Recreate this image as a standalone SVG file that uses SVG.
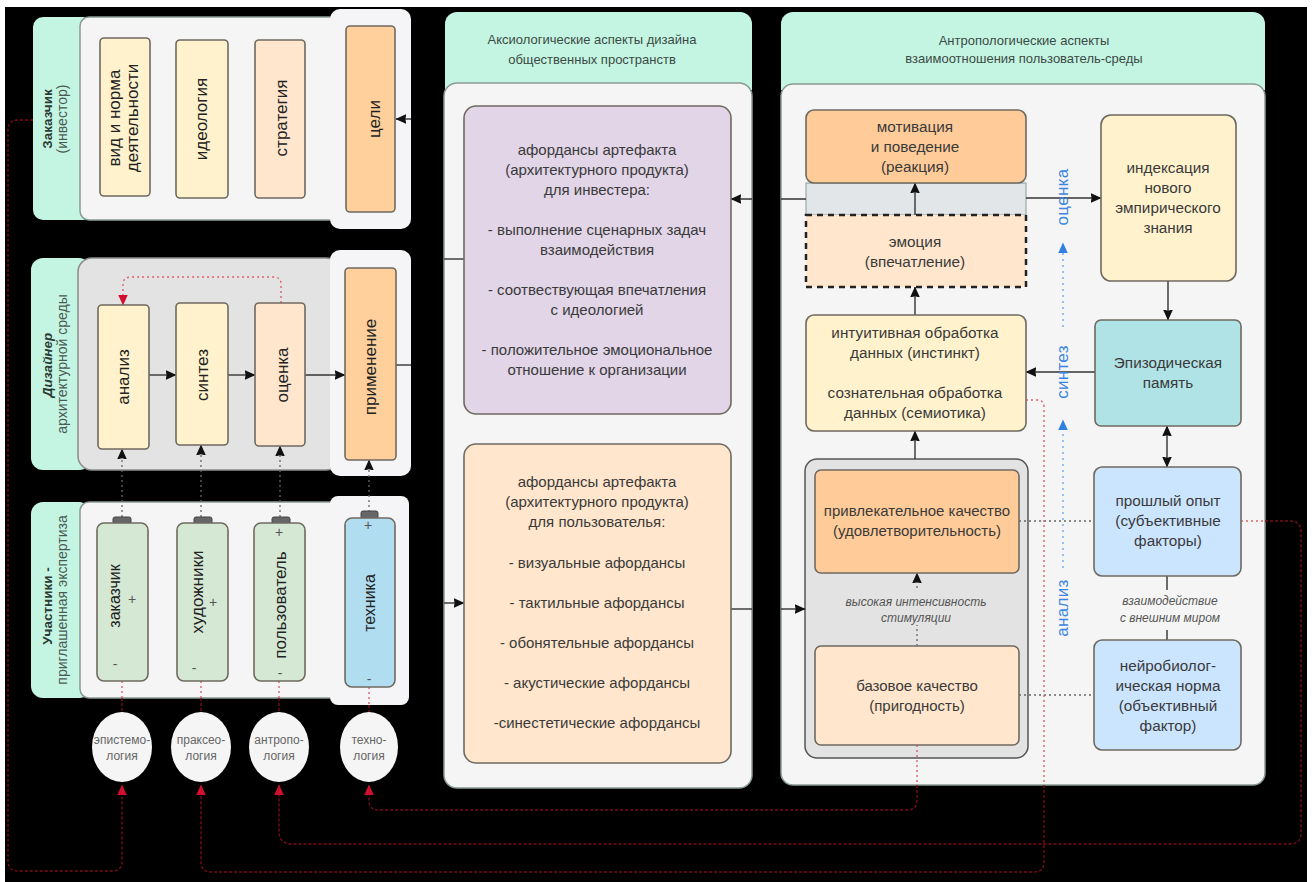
<svg xmlns="http://www.w3.org/2000/svg" width="1314" height="882" viewBox="0 0 1314 882">
<defs>
<marker id="ab" viewBox="0 0 10 10" refX="9.5" refY="5" markerWidth="11" markerHeight="11" markerUnits="userSpaceOnUse" orient="auto"><path d="M0 0.5L10 5L0 9.5L1 5Z" fill="#111"/></marker>
<marker id="ar" viewBox="0 0 10 10" refX="9.5" refY="5" markerWidth="11" markerHeight="11" markerUnits="userSpaceOnUse" orient="auto"><path d="M0 0.5L10 5L0 9.5Z" fill="#d0102e"/></marker>
<marker id="au" viewBox="0 0 10 10" refX="9.5" refY="5" markerWidth="11" markerHeight="11" markerUnits="userSpaceOnUse" orient="auto"><path d="M0 0.5L10 5L0 9.5Z" fill="#2f80e0"/></marker>
</defs>
<style>
text{font-family:"Liberation Sans",Arial,sans-serif;fill:#3a3a3a;text-anchor:middle;font-size:12px}
.hd{fill:#c4f5e2;stroke:none}
.pn{fill:#f5f5f5;stroke:#8a9a94;stroke-width:1.5}
.pg{fill:#e3e3e3;stroke:#8a8f8c;stroke-width:1.5}
.pt{fill:#f5f5f7;stroke:none}
.c{stroke:#6f6a60;stroke-width:1.6}
.y{fill:#fff2cc}.o{fill:#ffe6cc}.d{fill:#ffcf9c}.g{fill:#d5e8d4}.b{fill:#b1ddf0}.l{fill:#cce5ff}.t{fill:#b0e3e6}.p{fill:#e1d5e7}
.k{fill:#666;stroke:#444;stroke-width:1}
.cn{fill:none;stroke:#333;stroke-width:1.4}
.cd{fill:none;stroke:#666;stroke-width:1.3;stroke-dasharray:2 3}
.rd{fill:none;stroke:#7a0c18;stroke-width:1.4;stroke-dasharray:3 2}
.rl{fill:none;stroke:#e0606f;stroke-width:1.4;stroke-dasharray:2 3}
.bl{fill:none;stroke:#5a9be8;stroke-width:1.2;stroke-dasharray:2 4}
.h{font-size:13px;fill:#3c4a44}
.hr{font-size:14px;fill:#4a5a52}
.hb{font-size:13.5px;fill:#2c3a34;font-weight:bold}
.s{font-size:12px;fill:#555}
.m{font-size:15px}
.a{font-size:15.3px}
.v{font-size:17px;fill:#222}
.e{font-size:12px;fill:#666}
.q{font-size:14px;fill:#555}
.u{font-size:17px;fill:#3b86e0;letter-spacing:.3px}
</style>
<rect width="1314" height="882" fill="#fff"/>
<rect x="5" y="7" width="1302" height="875" fill="#000"/>

<g id="row1">
<rect class="hd" x="33" y="17" width="60" height="203" rx="10"/>
<rect class="pn" x="80" y="17" width="260" height="203" rx="9"/>
<rect class="pt" x="330" y="9" width="81" height="220" rx="10"/>
<text class="hb" transform="translate(52,119) rotate(-90)">Заказчик</text>
<text class="hr" transform="translate(67,119) rotate(-90)">(инвестор)</text>
</g>
<g id="row2">
<rect class="hd" x="31" y="258" width="60" height="212" rx="12"/>
<rect class="pg" x="78" y="258" width="262" height="212" rx="14"/>
<rect class="pt" x="330" y="250" width="81" height="226" rx="10"/>
<text class="hb" font-style="italic" transform="translate(52,365) rotate(-90)">Дизайнер</text>
<text class="hr" transform="translate(67,364) rotate(-90)">архитектурной среды</text>
</g>
<g id="row3">
<rect class="hd" x="31" y="502" width="60" height="196" rx="12"/>
<rect class="pn" x="80" y="502" width="260" height="196" rx="9"/>
<rect class="pt" x="330" y="496" width="79" height="209" rx="8"/>
<text class="hb" transform="translate(52,606) rotate(-90)">Участники -</text>
<text class="hr" transform="translate(67,600) rotate(-90)">приглашенная экспертиза</text>
</g>

<g id="axio">
<path class="hd" d="M445 90V24a12 12 0 0 1 12-12H740a12 12 0 0 1 12 12V90Z"/>
<text class="h" x="592" y="44">Аксиологические аспекты дизайна</text>
<text class="h" x="592" y="64">общественных пространств</text>
<rect class="pn" x="444" y="83" width="308" height="705" rx="13"/>
</g>
<g id="anthro">
<path class="hd" d="M781 90V24a12 12 0 0 1 12-12H1253a12 12 0 0 1 12 12V90Z"/>
<text class="h" x="1024" y="45">Антропологические аспекты</text>
<text class="h" x="1024" y="63">взаимоотношения пользователь-среды</text>
<rect class="pn" x="781" y="84" width="484" height="701" rx="12"/>
<rect x="806" y="183" width="220" height="32" fill="#e3e6e8" stroke="#8a9a9c"/>
<rect class="pg" x="805" y="459" width="223" height="299" rx="12" style="stroke:#555"/>
</g>

<g id="connectors">
<path class="cn" d="M411 119H396" marker-end="url(#ab)"/>
<path class="cn" d="M149 375H176" marker-end="url(#ab)"/>
<path class="cn" d="M228 375H255" marker-end="url(#ab)"/>
<path class="cn" d="M305 375H345" marker-end="url(#ab)"/>
<path class="cn" d="M396 365H411"/>
<path class="cn" d="M444 259H464"/>
<path class="cn" d="M444 603H464" marker-end="url(#ab)"/>
<path class="cn" d="M731 609H752"/>
<path class="cn" d="M781 609H805" marker-end="url(#ab)"/>
<path class="cn" d="M806 199H781M752 199H731" marker-end="url(#ab)"/>
<path class="cn" d="M1026 198H1101" marker-end="url(#ab)"/>
<path class="cn" d="M915 215V183" marker-end="url(#ab)"/>
<path class="cn" d="M915 315V287" marker-end="url(#ab)"/>
<path class="cn" d="M915 459V431" marker-end="url(#ab)"/>
<path class="cn" d="M1168 281V320" marker-end="url(#ab)"/>
<path class="cn" d="M1095 372H1026" marker-end="url(#ab)"/>
<path class="cn" d="M1167 447V426" marker-end="url(#ab)"/>
<path class="cn" d="M1167 447V467" marker-end="url(#ab)"/>
<path class="cd" d="M917 646V625M917 588V573" marker-end="url(#ab)"/>
<path class="cn" d="M1167 576V590M1167 630V640"/>
<path class="cd" d="M1019 521H1094"/>
<path class="cd" d="M1019 695H1094"/>
<path class="cd" d="M122 517V449" marker-end="url(#ab)"/>
<path class="cd" d="M201 517V445" marker-end="url(#ab)"/>
<path class="cd" d="M280 517V446" marker-end="url(#ab)"/>
<path class="cd" d="M369 512V460" marker-end="url(#ab)"/>
<path class="rl" d="M281 303V284Q281 277 274 277H132Q123 277 123 284V305" marker-end="url(#ar)"/>
<path class="rl" d="M122 681V698M201 681V698M279 681V698M369 687V705"/>
<path class="rd" d="M122 698V712M201 698V712M279 698V712M369 705V712"/>
<path class="rl" d="M1026 400H1037Q1044 400 1044 407V785"/>
<path class="rd" d="M1044 785V862Q1044 872 1034 872H211Q201 872 201 862V785" marker-end="url(#ar)"/>
<path class="rl" d="M1241 521H1265"/>
<path class="rd" d="M1265 521H1290Q1301 521 1301 532V833Q1301 844 1290 844H292Q279 844 279 831V785" marker-end="url(#ar)"/>
<path class="rl" d="M917 745V785"/>
<path class="rd" d="M917 785V800Q917 810 907 810H378Q369 810 369 800V785" marker-end="url(#ar)"/>
<path class="rd" d="M33 120H18Q8 120 8 130V861Q8 871 18 871H112Q122 871 122 861V785" marker-end="url(#ar)"/>
<path class="bl" d="M1063 568V420" marker-end="url(#au)"/>
<path class="bl" d="M1063 327V243" marker-end="url(#au)"/>
</g>

<g id="n1"><rect class="c y" x="100" y="38" width="50" height="158" rx="4"/><text class="v" transform="translate(120,118) rotate(-90)">вид и норма</text><text class="v" transform="translate(138,118) rotate(-90)">деятельности</text></g>
<g id="n2"><rect class="c y" x="176" y="40" width="52" height="158" rx="4"/><text class="v" transform="translate(207,119) rotate(-90)">идеология</text></g>
<g id="n3"><rect class="c o" x="255" y="40" width="50" height="158" rx="4"/><text class="v" transform="translate(287,118) rotate(-90)">стратегия</text></g>
<g id="n4"><rect class="c d" x="346" y="26" width="49" height="186" rx="4"/><text class="v" transform="translate(380,119) rotate(-90)">цели</text></g>
<g id="n5"><rect class="c y" x="98" y="305" width="51" height="144" rx="4"/><text class="v" transform="translate(129,377) rotate(-90)">анализ</text></g>
<g id="n6"><rect class="c y" x="176" y="303" width="52" height="142" rx="4"/><text class="v" transform="translate(208,375) rotate(-90)">синтез</text></g>
<g id="n7"><rect class="c o" x="255" y="303" width="50" height="143" rx="4"/><text class="v" transform="translate(288,375) rotate(-90)">оценка</text></g>
<g id="n8"><rect class="c d" x="345" y="268" width="51" height="192" rx="4"/><text class="v" transform="translate(376,367) rotate(-90)">применение</text></g>

<g id="n9"><rect class="k" x="113" y="517" width="18" height="7" rx="2"/><rect class="c g" x="97" y="523" width="51" height="158" rx="7"/><text class="v" style="font-size:16px" transform="translate(120,596) rotate(-90)">заказчик</text><text class="q" x="132" y="604">+</text><text class="q" x="115" y="669">-</text></g>
<g id="n10"><rect class="k" x="194" y="517" width="18" height="7" rx="2"/><rect class="c g" x="177" y="523" width="51" height="158" rx="7"/><text class="v" transform="translate(203,592) rotate(-90)">художники</text><text class="q" x="213" y="607">+</text><text class="q" x="194" y="673">-</text></g>
<g id="n11"><rect class="k" x="272" y="517" width="18" height="7" rx="2"/><rect class="c g" x="254" y="523" width="51" height="158" rx="7"/><text class="v" transform="translate(286,605) rotate(-90)">пользователь</text><text class="q" x="279" y="537">+</text><text class="q" x="280" y="678">-</text></g>
<g id="n12"><rect class="k" x="361" y="511" width="17" height="8" rx="2"/><rect class="c b" x="345" y="518" width="50" height="169" rx="7"/><text class="v" style="font-size:16px" transform="translate(375,603) rotate(-90)">техника</text><text class="q" x="368" y="530">+</text><text class="q" x="369" y="684">-</text></g>

<g id="e1"><ellipse cx="122" cy="747" rx="30" ry="35" fill="#f5f5f5"/><text class="e" x="122" y="744">эпистемо-</text><text class="e" x="122" y="760">логия</text></g>
<g id="e2"><ellipse cx="201" cy="747" rx="30" ry="35" fill="#f5f5f5"/><text class="e" x="201" y="744">праксео-</text><text class="e" x="201" y="760">логия</text></g>
<g id="e3"><ellipse cx="279" cy="747" rx="30" ry="35" fill="#f5f5f5"/><text class="e" x="279" y="744">антропо-</text><text class="e" x="279" y="760">логия</text></g>
<g id="e4"><ellipse cx="369" cy="747" rx="29" ry="35" fill="#f5f5f5"/><text class="e" x="369" y="744">техно-</text><text class="e" x="369" y="760">логия</text></g>

<g id="n13"><rect class="c p" x="464" y="106" width="267" height="308" rx="12"/>
<text class="m" x="597" y="155">афордансы артефакта</text><text class="m" x="597" y="175">(архитектурного продукта)</text><text class="m" x="597" y="195">для инвестера:</text>
<text class="m" x="597" y="235">- выполнение сценарных задач</text><text class="m" x="597" y="255">взаимодействия</text>
<text class="m" x="597" y="295">- соотвествующая впечатления</text><text class="m" x="597" y="315">с идеологией</text>
<text class="m" x="597" y="355">- положительное эмоциональное</text><text class="m" x="597" y="375">отношение к организации</text></g>
<g id="n14"><rect class="c o" x="464" y="444" width="267" height="319" rx="12"/>
<text class="m" x="597" y="487">афордансы артефакта</text><text class="m" x="597" y="507">(архитектурного продукта)</text><text class="m" x="597" y="527">для пользователья:</text>
<text class="m" x="597" y="568">- визуальные афордансы</text><text class="m" x="597" y="608">- тактильные афордансы</text><text class="m" x="597" y="648">- обонятельные афордансы</text><text class="m" x="597" y="688">- акустические афордансы</text><text class="m" x="597" y="728">-синестетические афордансы</text></g>

<g id="n15"><rect class="c" style="fill:#ffcc99" x="806" y="110" width="220" height="73" rx="8"/><text class="a" x="915" y="132">мотивация</text><text class="a" x="915" y="152">и поведение</text><text class="a" x="915" y="172">(реакция)</text></g>
<g id="n16"><rect class="o" x="806" y="215" width="220" height="72" style="stroke:#222;stroke-width:2.5;stroke-dasharray:6 5"/><text class="a" x="915" y="247">эмоция</text><text class="a" x="915" y="267">(впечатление)</text></g>
<g id="n17"><rect class="c y" x="806" y="315" width="220" height="116" rx="8"/><text class="a" x="915" y="338">интуитивная обработка</text><text class="a" x="915" y="358">данных (инстинкт)</text><text class="a" x="915" y="398">сознательная обработка</text><text class="a" x="915" y="418">данных (семиотика)</text></g>
<g id="n18"><rect class="c" style="fill:#ffcc99" x="815" y="470" width="204" height="103" rx="6"/><text class="m" x="917" y="516">привлекательное качество</text><text class="m" x="917" y="536">(удовлетворительность)</text></g>
<g id="n19"><rect class="c o" x="815" y="646" width="204" height="99" rx="6"/><text class="m" x="917" y="691">базовое качество</text><text class="m" x="917" y="711">(пригодность)</text></g>
<text class="s" x="916" y="606" font-style="italic">высокая интенсивность</text><text class="s" x="916" y="622" font-style="italic">стимуляции</text>
<g id="n20"><rect class="c y" x="1101" y="115" width="135" height="166" rx="10"/><text class="a" x="1168" y="173">индексация</text><text class="a" x="1168" y="193">нового</text><text class="a" x="1168" y="213">эмпирического</text><text class="a" x="1168" y="233">знания</text></g>
<g id="n21"><rect class="c t" x="1095" y="320" width="146" height="106" rx="6"/><text class="a" x="1168" y="368">Эпизодическая</text><text class="a" x="1168" y="388">память</text></g>
<g id="n22"><rect class="c l" x="1094" y="467" width="147" height="109" rx="8"/><text class="a" x="1168" y="506">прошлый опыт</text><text class="a" x="1168" y="526">(субъективные</text><text class="a" x="1168" y="546">факторы)</text></g>
<g id="n23"><rect class="c l" x="1094" y="640" width="147" height="110" rx="8"/><text class="a" x="1168" y="671">нейробиолог-</text><text class="a" x="1168" y="691">ическая норма</text><text class="a" x="1168" y="711">(объективный</text><text class="a" x="1168" y="731">фактор)</text></g>
<text class="s" x="1170" y="605" font-style="italic">взаимодействие</text><text class="s" x="1170" y="622" font-style="italic">с внешним миром</text>

<text class="u" transform="translate(1068,197) rotate(-90)">оценка</text>
<text class="u" transform="translate(1068,372) rotate(-90)">синтез</text>
<text class="u" transform="translate(1068,608) rotate(-90)">анализ</text>
</svg>
